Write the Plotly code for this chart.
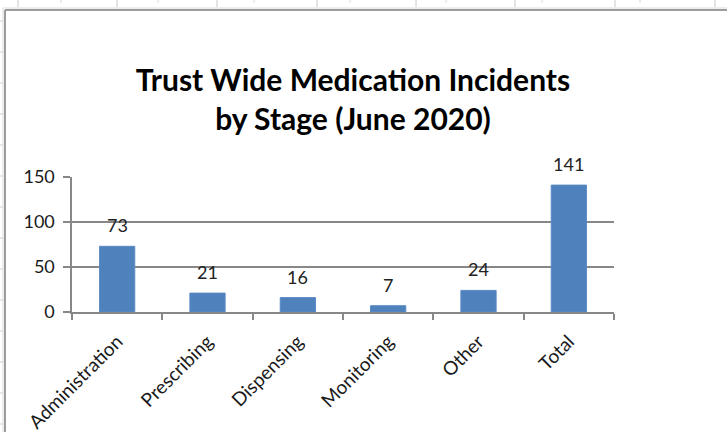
import plotly.graph_objects as go

categories = ["Administration", "Prescribing", "Dispensing", "Monitoring", "Other", "Total"]
incidents = [73, 21, 16, 7, 24, 141]
y_ticks = [0, 50, 100, 150]
title_lines = ["Trust Wide Medication Incidents", "by Stage (June 2020)"]

W, H = 727, 432
L, R, T, B = 72, 113, 177, 120
PW, PH = W - L - R, H - T - B

def px(x):
    return (x - L) / PW

def py(y):
    return (H - B - y) / PH

GRID = "#878787"
BAR = "#4F81BD"
FONT = "Lato"

fig = go.Figure()
fig.add_trace(go.Bar(
    x=categories, y=incidents,
    marker=dict(color=BAR, line=dict(color="#5A8AC6", width=1)),
    width=0.39,
    hoverinfo="x+y",
))

for c, v in zip(categories, incidents):
    fig.add_annotation(x=c, y=v, text=str(v), showarrow=False,
                       yanchor="middle", yshift=21,
                       font=dict(family=FONT, size=18, color="#222222"))

shapes = []
# chart frame (sheet overlay)
shapes.append(dict(type="line", xref="paper", yref="paper", x0=px(5), x1=px(740), y0=py(10), y1=py(10),
                   line=dict(color="#9c9c9c", width=2)))
shapes.append(dict(type="line", xref="paper", yref="paper", x0=px(5), x1=px(5), y0=py(10), y1=py(445),
                   line=dict(color="#9c9c9c", width=2)))
shapes.append(dict(type="line", xref="paper", yref="paper", x0=px(3), x1=px(740), y0=py(8), y1=py(8),
                   line=dict(color="#dadada", width=1)))
shapes.append(dict(type="line", xref="paper", yref="paper", x0=px(3), x1=px(3), y0=py(8), y1=py(445),
                   line=dict(color="#dadada", width=1)))
# spreadsheet cell marks
for x in [18, 117, 217, 317, 416, 515, 615, 715]:
    shapes.append(dict(type="line", xref="paper", yref="paper", x0=px(x), x1=px(x), y0=py(0), y1=py(7),
                       line=dict(color="#c8c8c8", width=1)))
for x in [61, 158, 254, 350, 446, 542, 640]:
    shapes.append(dict(type="line", xref="paper", yref="paper", x0=px(x), x1=px(x), y0=py(0), y1=py(3),
                       line=dict(color="#d8d8d8", width=1)))
for y in [21, 52, 83, 114, 145, 176, 207, 238, 269, 300, 331, 362, 393, 424]:
    shapes.append(dict(type="line", xref="paper", yref="paper", x0=px(0), x1=px(3), y0=py(y), y1=py(y),
                       line=dict(color="#d0d0d0", width=1)))

fig.update_layout(
    width=W, height=H,
    margin=dict(l=L, r=R, t=T, b=B, autoexpand=False),
    paper_bgcolor="white", plot_bgcolor="white",
    showlegend=False,
    bargap=0.6,
    title=dict(text="<br>".join(title_lines), x=353 / W, xanchor="center",
               y=1 - 91 / H, yanchor="top", yref="container",
               font=dict(family=FONT, size=30, color="#000000", weight="bold")),
    shapes=shapes,
    xaxis=dict(type="category", tickson="boundaries", ticks="outside", ticklen=6, tickwidth=2,
               tickcolor=GRID, showline=True, linecolor=GRID, linewidth=2, showgrid=False,
               tickangle=-45, ticklabelstandoff=9,
               tickfont=dict(family=FONT, size=19, color="#1a1a1a"),
               range=[-0.5, 5.5], fixedrange=True),
    yaxis=dict(range=[0, 150], tickvals=y_ticks,
               ticktext=[f"{t}&nbsp;" for t in y_ticks],
               ticks="outside", ticklen=7, tickwidth=2,
               tickcolor=GRID, showline=True, linecolor=GRID, linewidth=2,
               showgrid=True, gridcolor=GRID, gridwidth=2, zeroline=False,
               tickfont=dict(family=FONT, size=18, color="#1a1a1a"), fixedrange=True),
)

fig.write_html("out.html", config={"displayModeBar": False},
               post_script="document.body.style.margin='0';")
